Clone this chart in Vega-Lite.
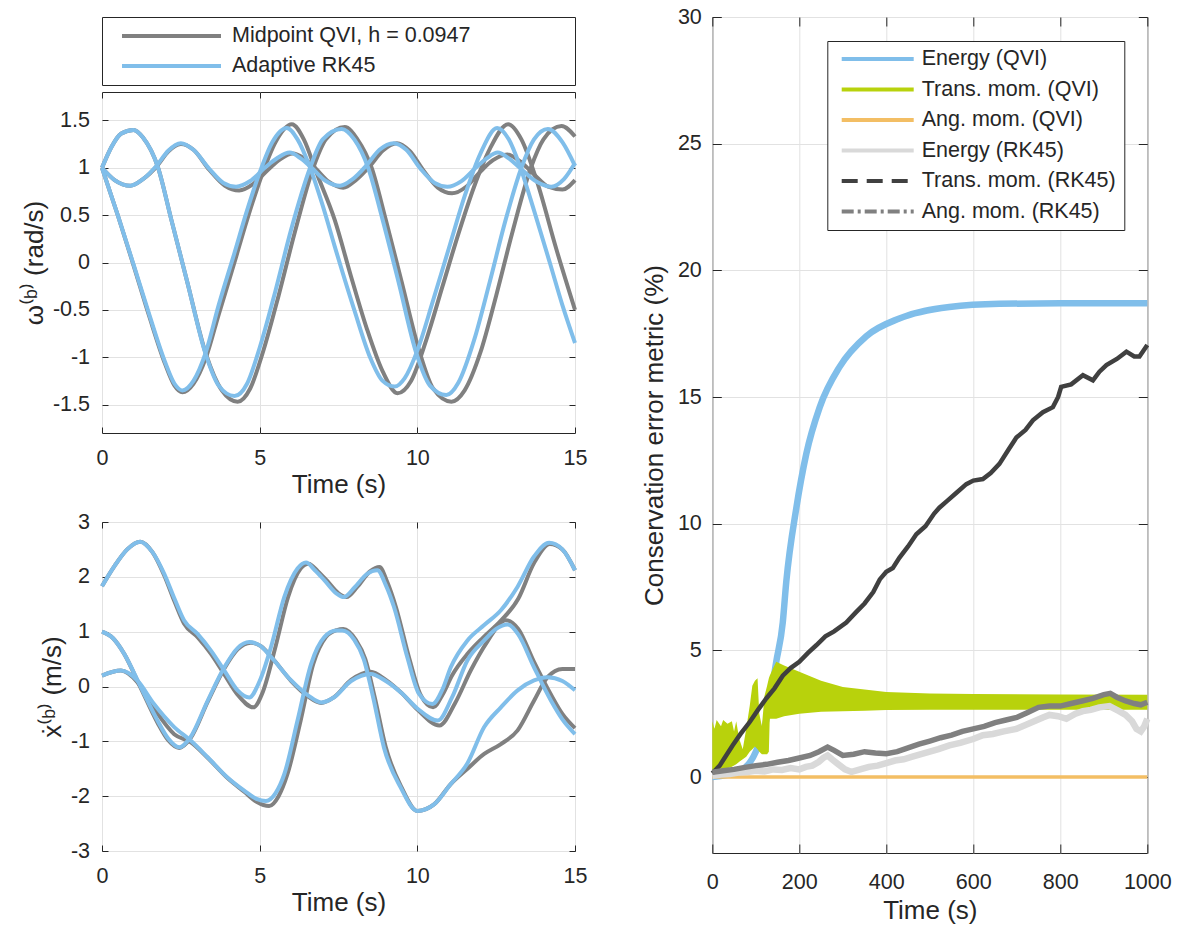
{
  "$schema": "https://vega.github.io/schema/vega-lite/v6.json",
  "background": "white",
  "padding": {"left": 20, "top": 5, "right": 0, "bottom": 0},
  "config": {
    "font": "Liberation Sans",
    "view": {"stroke": "#262626", "strokeWidth": 1},
    "axis": {
      "domain": false,
      "grid": true, "gridColor": "#e2e2e2", "gridWidth": 1,
      "ticks": true, "tickColor": "#262626", "tickSize": -6, "tickWidth": 1,
      "labelFont": "Liberation Sans", "labelFontSize": 21.5, "labelColor": "#262626",
      "labelFlush": false, "labelOverlap": false,
      "titleFont": "Liberation Sans", "titleFontSize": 26, "titleFontWeight": "normal", "titleColor": "#262626"
    },
    "axisX": {"labelPadding": 20.5, "titlePadding": 2},
    "axisY": {"labelPadding": 18.5, "titlePadding": 5.3}
  },
  "datasets": {
    "omega": [
      {"m":"Midpoint QVI, h = 0.0947","c":"A","t":0,"v":1.0},{"m":"Midpoint QVI, h = 0.0947","c":"A","t":0.4,"v":0.87},{"m":"Midpoint QVI, h = 0.0947","c":"A","t":0.9,"v":0.81},{"m":"Midpoint QVI, h = 0.0947","c":"A","t":1.3,"v":0.88},{"m":"Midpoint QVI, h = 0.0947","c":"A","t":1.75,"v":1.02},{"m":"Midpoint QVI, h = 0.0947","c":"A","t":2.1,"v":1.17},{"m":"Midpoint QVI, h = 0.0947","c":"A","t":2.5,"v":1.25},{"m":"Midpoint QVI, h = 0.0947","c":"A","t":2.9,"v":1.19},{"m":"Midpoint QVI, h = 0.0947","c":"A","t":3.4,"v":0.98},{"m":"Midpoint QVI, h = 0.0947","c":"A","t":3.9,"v":0.81},{"m":"Midpoint QVI, h = 0.0947","c":"A","t":4.35,"v":0.76},{"m":"Midpoint QVI, h = 0.0947","c":"A","t":4.8,"v":0.83},{"m":"Midpoint QVI, h = 0.0947","c":"A","t":5.3,"v":0.99},{"m":"Midpoint QVI, h = 0.0947","c":"A","t":5.65,"v":1.09},{"m":"Midpoint QVI, h = 0.0947","c":"A","t":6.05,"v":1.15},{"m":"Midpoint QVI, h = 0.0947","c":"A","t":6.4,"v":1.1},{"m":"Midpoint QVI, h = 0.0947","c":"A","t":6.75,"v":1.0},{"m":"Midpoint QVI, h = 0.0947","c":"A","t":7.2,"v":0.85},{"m":"Midpoint QVI, h = 0.0947","c":"A","t":7.65,"v":0.79},{"m":"Midpoint QVI, h = 0.0947","c":"A","t":8.05,"v":0.87},{"m":"Midpoint QVI, h = 0.0947","c":"A","t":8.5,"v":1.02},{"m":"Midpoint QVI, h = 0.0947","c":"A","t":8.9,"v":1.18},{"m":"Midpoint QVI, h = 0.0947","c":"A","t":9.35,"v":1.26},{"m":"Midpoint QVI, h = 0.0947","c":"A","t":9.75,"v":1.18},{"m":"Midpoint QVI, h = 0.0947","c":"A","t":10.2,"v":0.97},{"m":"Midpoint QVI, h = 0.0947","c":"A","t":10.65,"v":0.79},{"m":"Midpoint QVI, h = 0.0947","c":"A","t":11.1,"v":0.73},{"m":"Midpoint QVI, h = 0.0947","c":"A","t":11.55,"v":0.8},{"m":"Midpoint QVI, h = 0.0947","c":"A","t":12.0,"v":0.96},{"m":"Midpoint QVI, h = 0.0947","c":"A","t":12.4,"v":1.08},{"m":"Midpoint QVI, h = 0.0947","c":"A","t":12.85,"v":1.14},{"m":"Midpoint QVI, h = 0.0947","c":"A","t":13.25,"v":1.07},{"m":"Midpoint QVI, h = 0.0947","c":"A","t":13.7,"v":0.93},{"m":"Midpoint QVI, h = 0.0947","c":"A","t":14.15,"v":0.8},{"m":"Midpoint QVI, h = 0.0947","c":"A","t":14.6,"v":0.77},{"m":"Midpoint QVI, h = 0.0947","c":"A","t":15,"v":0.87},
      {"m":"Midpoint QVI, h = 0.0947","c":"B","t":0,"v":1.0},{"m":"Midpoint QVI, h = 0.0947","c":"B","t":0.3,"v":1.22},{"m":"Midpoint QVI, h = 0.0947","c":"B","t":0.6,"v":1.36},{"m":"Midpoint QVI, h = 0.0947","c":"B","t":1.0,"v":1.4},{"m":"Midpoint QVI, h = 0.0947","c":"B","t":1.3,"v":1.32},{"m":"Midpoint QVI, h = 0.0947","c":"B","t":1.78,"v":1.0},{"m":"Midpoint QVI, h = 0.0947","c":"B","t":2.2,"v":0.45},{"m":"Midpoint QVI, h = 0.0947","c":"B","t":2.7,"v":-0.2},{"m":"Midpoint QVI, h = 0.0947","c":"B","t":3.3,"v":-0.97},{"m":"Midpoint QVI, h = 0.0947","c":"B","t":3.8,"v":-1.35},{"m":"Midpoint QVI, h = 0.0947","c":"B","t":4.3,"v":-1.47},{"m":"Midpoint QVI, h = 0.0947","c":"B","t":4.7,"v":-1.33},{"m":"Midpoint QVI, h = 0.0947","c":"B","t":5.1,"v":-0.95},{"m":"Midpoint QVI, h = 0.0947","c":"B","t":5.6,"v":-0.35},{"m":"Midpoint QVI, h = 0.0947","c":"B","t":6.1,"v":0.3},{"m":"Midpoint QVI, h = 0.0947","c":"B","t":6.7,"v":1.0},{"m":"Midpoint QVI, h = 0.0947","c":"B","t":7.1,"v":1.3},{"m":"Midpoint QVI, h = 0.0947","c":"B","t":7.7,"v":1.43},{"m":"Midpoint QVI, h = 0.0947","c":"B","t":8.1,"v":1.3},{"m":"Midpoint QVI, h = 0.0947","c":"B","t":8.55,"v":1.0},{"m":"Midpoint QVI, h = 0.0947","c":"B","t":9.0,"v":0.45},{"m":"Midpoint QVI, h = 0.0947","c":"B","t":9.5,"v":-0.2},{"m":"Midpoint QVI, h = 0.0947","c":"B","t":10.05,"v":-0.92},{"m":"Midpoint QVI, h = 0.0947","c":"B","t":10.5,"v":-1.33},{"m":"Midpoint QVI, h = 0.0947","c":"B","t":11.08,"v":-1.47},{"m":"Midpoint QVI, h = 0.0947","c":"B","t":11.5,"v":-1.35},{"m":"Midpoint QVI, h = 0.0947","c":"B","t":12.0,"v":-0.95},{"m":"Midpoint QVI, h = 0.0947","c":"B","t":12.5,"v":-0.35},{"m":"Midpoint QVI, h = 0.0947","c":"B","t":13.0,"v":0.3},{"m":"Midpoint QVI, h = 0.0947","c":"B","t":13.6,"v":1.0},{"m":"Midpoint QVI, h = 0.0947","c":"B","t":14.0,"v":1.3},{"m":"Midpoint QVI, h = 0.0947","c":"B","t":14.57,"v":1.44},{"m":"Midpoint QVI, h = 0.0947","c":"B","t":15,"v":1.33},
      {"m":"Midpoint QVI, h = 0.0947","c":"C","t":0,"v":1.0},{"m":"Midpoint QVI, h = 0.0947","c":"C","t":0.5,"v":0.5},{"m":"Midpoint QVI, h = 0.0947","c":"C","t":1.0,"v":-0.03},{"m":"Midpoint QVI, h = 0.0947","c":"C","t":1.5,"v":-0.57},{"m":"Midpoint QVI, h = 0.0947","c":"C","t":2.0,"v":-1.07},{"m":"Midpoint QVI, h = 0.0947","c":"C","t":2.3,"v":-1.3},{"m":"Midpoint QVI, h = 0.0947","c":"C","t":2.55,"v":-1.37},{"m":"Midpoint QVI, h = 0.0947","c":"C","t":2.9,"v":-1.28},{"m":"Midpoint QVI, h = 0.0947","c":"C","t":3.3,"v":-1.0},{"m":"Midpoint QVI, h = 0.0947","c":"C","t":3.7,"v":-0.55},{"m":"Midpoint QVI, h = 0.0947","c":"C","t":4.2,"v":0.0},{"m":"Midpoint QVI, h = 0.0947","c":"C","t":4.6,"v":0.45},{"m":"Midpoint QVI, h = 0.0947","c":"C","t":5.1,"v":0.95},{"m":"Midpoint QVI, h = 0.0947","c":"C","t":5.5,"v":1.27},{"m":"Midpoint QVI, h = 0.0947","c":"C","t":6.02,"v":1.46},{"m":"Midpoint QVI, h = 0.0947","c":"C","t":6.4,"v":1.3},{"m":"Midpoint QVI, h = 0.0947","c":"C","t":6.8,"v":0.95},{"m":"Midpoint QVI, h = 0.0947","c":"C","t":7.38,"v":0.45},{"m":"Midpoint QVI, h = 0.0947","c":"C","t":7.9,"v":-0.15},{"m":"Midpoint QVI, h = 0.0947","c":"C","t":8.4,"v":-0.7},{"m":"Midpoint QVI, h = 0.0947","c":"C","t":8.9,"v":-1.15},{"m":"Midpoint QVI, h = 0.0947","c":"C","t":9.37,"v":-1.38},{"m":"Midpoint QVI, h = 0.0947","c":"C","t":9.8,"v":-1.25},{"m":"Midpoint QVI, h = 0.0947","c":"C","t":10.3,"v":-0.8},{"m":"Midpoint QVI, h = 0.0947","c":"C","t":10.8,"v":-0.25},{"m":"Midpoint QVI, h = 0.0947","c":"C","t":11.3,"v":0.3},{"m":"Midpoint QVI, h = 0.0947","c":"C","t":11.8,"v":0.8},{"m":"Midpoint QVI, h = 0.0947","c":"C","t":12.3,"v":1.2},{"m":"Midpoint QVI, h = 0.0947","c":"C","t":12.88,"v":1.46},{"m":"Midpoint QVI, h = 0.0947","c":"C","t":13.3,"v":1.3},{"m":"Midpoint QVI, h = 0.0947","c":"C","t":13.8,"v":0.85},{"m":"Midpoint QVI, h = 0.0947","c":"C","t":14.4,"v":0.15},{"m":"Midpoint QVI, h = 0.0947","c":"C","t":15,"v":-0.5},
      {"m":"Adaptive RK45","c":"A","t":0,"v":1.0},{"m":"Adaptive RK45","c":"A","t":0.4,"v":0.87},{"m":"Adaptive RK45","c":"A","t":0.9,"v":0.81},{"m":"Adaptive RK45","c":"A","t":1.3,"v":0.88},{"m":"Adaptive RK45","c":"A","t":1.75,"v":1.03},{"m":"Adaptive RK45","c":"A","t":2.1,"v":1.18},{"m":"Adaptive RK45","c":"A","t":2.5,"v":1.26},{"m":"Adaptive RK45","c":"A","t":2.9,"v":1.19},{"m":"Adaptive RK45","c":"A","t":3.4,"v":0.99},{"m":"Adaptive RK45","c":"A","t":3.85,"v":0.84},{"m":"Adaptive RK45","c":"A","t":4.25,"v":0.8},{"m":"Adaptive RK45","c":"A","t":4.7,"v":0.86},{"m":"Adaptive RK45","c":"A","t":5.2,"v":1.01},{"m":"Adaptive RK45","c":"A","t":5.55,"v":1.1},{"m":"Adaptive RK45","c":"A","t":5.95,"v":1.16},{"m":"Adaptive RK45","c":"A","t":6.3,"v":1.1},{"m":"Adaptive RK45","c":"A","t":6.65,"v":1.0},{"m":"Adaptive RK45","c":"A","t":7.1,"v":0.86},{"m":"Adaptive RK45","c":"A","t":7.55,"v":0.81},{"m":"Adaptive RK45","c":"A","t":7.95,"v":0.88},{"m":"Adaptive RK45","c":"A","t":8.4,"v":1.03},{"m":"Adaptive RK45","c":"A","t":8.8,"v":1.19},{"m":"Adaptive RK45","c":"A","t":9.25,"v":1.26},{"m":"Adaptive RK45","c":"A","t":9.65,"v":1.19},{"m":"Adaptive RK45","c":"A","t":10.1,"v":0.99},{"m":"Adaptive RK45","c":"A","t":10.55,"v":0.84},{"m":"Adaptive RK45","c":"A","t":10.95,"v":0.8},{"m":"Adaptive RK45","c":"A","t":11.4,"v":0.86},{"m":"Adaptive RK45","c":"A","t":11.85,"v":1.0},{"m":"Adaptive RK45","c":"A","t":12.2,"v":1.1},{"m":"Adaptive RK45","c":"A","t":12.55,"v":1.16},{"m":"Adaptive RK45","c":"A","t":12.9,"v":1.1},{"m":"Adaptive RK45","c":"A","t":13.25,"v":1.0},{"m":"Adaptive RK45","c":"A","t":13.8,"v":0.85},{"m":"Adaptive RK45","c":"A","t":14.25,"v":0.8},{"m":"Adaptive RK45","c":"A","t":14.65,"v":0.88},{"m":"Adaptive RK45","c":"A","t":15,"v":1.05},
      {"m":"Adaptive RK45","c":"B","t":0,"v":1.0},{"m":"Adaptive RK45","c":"B","t":0.3,"v":1.22},{"m":"Adaptive RK45","c":"B","t":0.6,"v":1.36},{"m":"Adaptive RK45","c":"B","t":1.0,"v":1.4},{"m":"Adaptive RK45","c":"B","t":1.3,"v":1.32},{"m":"Adaptive RK45","c":"B","t":1.76,"v":1.02},{"m":"Adaptive RK45","c":"B","t":2.2,"v":0.45},{"m":"Adaptive RK45","c":"B","t":2.7,"v":-0.2},{"m":"Adaptive RK45","c":"B","t":3.28,"v":-0.96},{"m":"Adaptive RK45","c":"B","t":3.7,"v":-1.3},{"m":"Adaptive RK45","c":"B","t":4.2,"v":-1.41},{"m":"Adaptive RK45","c":"B","t":4.6,"v":-1.28},{"m":"Adaptive RK45","c":"B","t":5.0,"v":-0.9},{"m":"Adaptive RK45","c":"B","t":5.5,"v":-0.3},{"m":"Adaptive RK45","c":"B","t":6.0,"v":0.35},{"m":"Adaptive RK45","c":"B","t":6.6,"v":1.0},{"m":"Adaptive RK45","c":"B","t":7.0,"v":1.3},{"m":"Adaptive RK45","c":"B","t":7.6,"v":1.41},{"m":"Adaptive RK45","c":"B","t":8.0,"v":1.3},{"m":"Adaptive RK45","c":"B","t":8.44,"v":1.0},{"m":"Adaptive RK45","c":"B","t":8.9,"v":0.45},{"m":"Adaptive RK45","c":"B","t":9.4,"v":-0.2},{"m":"Adaptive RK45","c":"B","t":9.97,"v":-0.96},{"m":"Adaptive RK45","c":"B","t":10.4,"v":-1.3},{"m":"Adaptive RK45","c":"B","t":10.92,"v":-1.4},{"m":"Adaptive RK45","c":"B","t":11.3,"v":-1.27},{"m":"Adaptive RK45","c":"B","t":11.8,"v":-0.82},{"m":"Adaptive RK45","c":"B","t":12.3,"v":-0.2},{"m":"Adaptive RK45","c":"B","t":12.8,"v":0.45},{"m":"Adaptive RK45","c":"B","t":13.3,"v":1.0},{"m":"Adaptive RK45","c":"B","t":13.7,"v":1.3},{"m":"Adaptive RK45","c":"B","t":14.14,"v":1.41},{"m":"Adaptive RK45","c":"B","t":14.6,"v":1.27},{"m":"Adaptive RK45","c":"B","t":15,"v":1.02},
      {"m":"Adaptive RK45","c":"C","t":0,"v":1.0},{"m":"Adaptive RK45","c":"C","t":0.5,"v":0.5},{"m":"Adaptive RK45","c":"C","t":1.0,"v":-0.02},{"m":"Adaptive RK45","c":"C","t":1.5,"v":-0.55},{"m":"Adaptive RK45","c":"C","t":2.0,"v":-1.05},{"m":"Adaptive RK45","c":"C","t":2.3,"v":-1.28},{"m":"Adaptive RK45","c":"C","t":2.55,"v":-1.35},{"m":"Adaptive RK45","c":"C","t":2.9,"v":-1.25},{"m":"Adaptive RK45","c":"C","t":3.28,"v":-0.96},{"m":"Adaptive RK45","c":"C","t":3.7,"v":-0.45},{"m":"Adaptive RK45","c":"C","t":4.2,"v":0.1},{"m":"Adaptive RK45","c":"C","t":4.6,"v":0.55},{"m":"Adaptive RK45","c":"C","t":5.0,"v":0.95},{"m":"Adaptive RK45","c":"C","t":5.4,"v":1.27},{"m":"Adaptive RK45","c":"C","t":5.86,"v":1.42},{"m":"Adaptive RK45","c":"C","t":6.2,"v":1.3},{"m":"Adaptive RK45","c":"C","t":6.6,"v":1.0},{"m":"Adaptive RK45","c":"C","t":7.0,"v":0.6},{"m":"Adaptive RK45","c":"C","t":7.38,"v":0.17},{"m":"Adaptive RK45","c":"C","t":8.0,"v":-0.5},{"m":"Adaptive RK45","c":"C","t":8.5,"v":-1.0},{"m":"Adaptive RK45","c":"C","t":8.9,"v":-1.25},{"m":"Adaptive RK45","c":"C","t":9.28,"v":-1.31},{"m":"Adaptive RK45","c":"C","t":9.6,"v":-1.22},{"m":"Adaptive RK45","c":"C","t":10.0,"v":-0.93},{"m":"Adaptive RK45","c":"C","t":10.5,"v":-0.4},{"m":"Adaptive RK45","c":"C","t":11.0,"v":0.15},{"m":"Adaptive RK45","c":"C","t":11.5,"v":0.7},{"m":"Adaptive RK45","c":"C","t":12.0,"v":1.15},{"m":"Adaptive RK45","c":"C","t":12.53,"v":1.42},{"m":"Adaptive RK45","c":"C","t":12.9,"v":1.3},{"m":"Adaptive RK45","c":"C","t":13.25,"v":1.02},{"m":"Adaptive RK45","c":"C","t":13.7,"v":0.55},{"m":"Adaptive RK45","c":"C","t":14.2,"v":0.0},{"m":"Adaptive RK45","c":"C","t":14.6,"v":-0.45},{"m":"Adaptive RK45","c":"C","t":15,"v":-0.85}
    ],
    "xdot": [
      {"m":"Midpoint QVI, h = 0.0947","c":"P","t":0,"v":1.83},{"m":"Midpoint QVI, h = 0.0947","c":"P","t":0.4,"v":2.2},{"m":"Midpoint QVI, h = 0.0947","c":"P","t":0.8,"v":2.5},{"m":"Midpoint QVI, h = 0.0947","c":"P","t":1.21,"v":2.64},{"m":"Midpoint QVI, h = 0.0947","c":"P","t":1.6,"v":2.45},{"m":"Midpoint QVI, h = 0.0947","c":"P","t":1.97,"v":2.03},{"m":"Midpoint QVI, h = 0.0947","c":"P","t":2.3,"v":1.55},{"m":"Midpoint QVI, h = 0.0947","c":"P","t":2.6,"v":1.15},{"m":"Midpoint QVI, h = 0.0947","c":"P","t":3.03,"v":0.9},{"m":"Midpoint QVI, h = 0.0947","c":"P","t":3.45,"v":0.6},{"m":"Midpoint QVI, h = 0.0947","c":"P","t":3.88,"v":0.22},{"m":"Midpoint QVI, h = 0.0947","c":"P","t":4.3,"v":-0.15},{"m":"Midpoint QVI, h = 0.0947","c":"P","t":4.8,"v":-0.38},{"m":"Midpoint QVI, h = 0.0947","c":"P","t":5.1,"v":-0.1},{"m":"Midpoint QVI, h = 0.0947","c":"P","t":5.5,"v":0.72},{"m":"Midpoint QVI, h = 0.0947","c":"P","t":5.9,"v":1.63},{"m":"Midpoint QVI, h = 0.0947","c":"P","t":6.3,"v":2.15},{"m":"Midpoint QVI, h = 0.0947","c":"P","t":6.55,"v":2.24},{"m":"Midpoint QVI, h = 0.0947","c":"P","t":6.85,"v":2.1},{"m":"Midpoint QVI, h = 0.0947","c":"P","t":7.15,"v":1.92},{"m":"Midpoint QVI, h = 0.0947","c":"P","t":7.5,"v":1.7},{"m":"Midpoint QVI, h = 0.0947","c":"P","t":7.75,"v":1.63},{"m":"Midpoint QVI, h = 0.0947","c":"P","t":8.1,"v":1.82},{"m":"Midpoint QVI, h = 0.0947","c":"P","t":8.5,"v":2.1},{"m":"Midpoint QVI, h = 0.0947","c":"P","t":8.8,"v":2.18},{"m":"Midpoint QVI, h = 0.0947","c":"P","t":9.05,"v":1.9},{"m":"Midpoint QVI, h = 0.0947","c":"P","t":9.32,"v":1.45},{"m":"Midpoint QVI, h = 0.0947","c":"P","t":9.75,"v":0.5},{"m":"Midpoint QVI, h = 0.0947","c":"P","t":10.1,"v":-0.15},{"m":"Midpoint QVI, h = 0.0947","c":"P","t":10.5,"v":-0.38},{"m":"Midpoint QVI, h = 0.0947","c":"P","t":10.8,"v":-0.15},{"m":"Midpoint QVI, h = 0.0947","c":"P","t":11.1,"v":0.2},{"m":"Midpoint QVI, h = 0.0947","c":"P","t":11.6,"v":0.6},{"m":"Midpoint QVI, h = 0.0947","c":"P","t":12.1,"v":0.9},{"m":"Midpoint QVI, h = 0.0947","c":"P","t":12.65,"v":1.2},{"m":"Midpoint QVI, h = 0.0947","c":"P","t":13.2,"v":1.6},{"m":"Midpoint QVI, h = 0.0947","c":"P","t":13.7,"v":2.25},{"m":"Midpoint QVI, h = 0.0947","c":"P","t":14.2,"v":2.6},{"m":"Midpoint QVI, h = 0.0947","c":"P","t":14.6,"v":2.5},{"m":"Midpoint QVI, h = 0.0947","c":"P","t":15,"v":2.12},
      {"m":"Midpoint QVI, h = 0.0947","c":"Q","t":0,"v":1.0},{"m":"Midpoint QVI, h = 0.0947","c":"Q","t":0.35,"v":0.88},{"m":"Midpoint QVI, h = 0.0947","c":"Q","t":0.7,"v":0.6},{"m":"Midpoint QVI, h = 0.0947","c":"Q","t":1.23,"v":-0.03},{"m":"Midpoint QVI, h = 0.0947","c":"Q","t":1.76,"v":-0.66},{"m":"Midpoint QVI, h = 0.0947","c":"Q","t":2.1,"v":-0.98},{"m":"Midpoint QVI, h = 0.0947","c":"Q","t":2.45,"v":-1.12},{"m":"Midpoint QVI, h = 0.0947","c":"Q","t":2.8,"v":-0.95},{"m":"Midpoint QVI, h = 0.0947","c":"Q","t":3.35,"v":-0.28},{"m":"Midpoint QVI, h = 0.0947","c":"Q","t":3.88,"v":0.33},{"m":"Midpoint QVI, h = 0.0947","c":"Q","t":4.3,"v":0.68},{"m":"Midpoint QVI, h = 0.0947","c":"Q","t":4.72,"v":0.8},{"m":"Midpoint QVI, h = 0.0947","c":"Q","t":5.05,"v":0.73},{"m":"Midpoint QVI, h = 0.0947","c":"Q","t":5.4,"v":0.52},{"m":"Midpoint QVI, h = 0.0947","c":"Q","t":6.0,"v":0.1},{"m":"Midpoint QVI, h = 0.0947","c":"Q","t":6.53,"v":-0.18},{"m":"Midpoint QVI, h = 0.0947","c":"Q","t":6.95,"v":-0.3},{"m":"Midpoint QVI, h = 0.0947","c":"Q","t":7.35,"v":-0.2},{"m":"Midpoint QVI, h = 0.0947","c":"Q","t":7.9,"v":0.12},{"m":"Midpoint QVI, h = 0.0947","c":"Q","t":8.52,"v":0.27},{"m":"Midpoint QVI, h = 0.0947","c":"Q","t":9.0,"v":0.12},{"m":"Midpoint QVI, h = 0.0947","c":"Q","t":9.5,"v":-0.12},{"m":"Midpoint QVI, h = 0.0947","c":"Q","t":10.0,"v":-0.42},{"m":"Midpoint QVI, h = 0.0947","c":"Q","t":10.7,"v":-0.71},{"m":"Midpoint QVI, h = 0.0947","c":"Q","t":11.2,"v":-0.3},{"m":"Midpoint QVI, h = 0.0947","c":"Q","t":11.7,"v":0.3},{"m":"Midpoint QVI, h = 0.0947","c":"Q","t":12.2,"v":0.8},{"m":"Midpoint QVI, h = 0.0947","c":"Q","t":12.8,"v":1.21},{"m":"Midpoint QVI, h = 0.0947","c":"Q","t":13.2,"v":1.05},{"m":"Midpoint QVI, h = 0.0947","c":"Q","t":13.7,"v":0.45},{"m":"Midpoint QVI, h = 0.0947","c":"Q","t":14.24,"v":-0.15},{"m":"Midpoint QVI, h = 0.0947","c":"Q","t":14.6,"v":-0.5},{"m":"Midpoint QVI, h = 0.0947","c":"Q","t":15,"v":-0.76},
      {"m":"Midpoint QVI, h = 0.0947","c":"R","t":0,"v":0.2},{"m":"Midpoint QVI, h = 0.0947","c":"R","t":0.6,"v":0.29},{"m":"Midpoint QVI, h = 0.0947","c":"R","t":1.12,"v":0.08},{"m":"Midpoint QVI, h = 0.0947","c":"R","t":1.65,"v":-0.4},{"m":"Midpoint QVI, h = 0.0947","c":"R","t":2.29,"v":-0.87},{"m":"Midpoint QVI, h = 0.0947","c":"R","t":2.82,"v":-1.02},{"m":"Midpoint QVI, h = 0.0947","c":"R","t":3.35,"v":-1.3},{"m":"Midpoint QVI, h = 0.0947","c":"R","t":3.98,"v":-1.67},{"m":"Midpoint QVI, h = 0.0947","c":"R","t":4.51,"v":-1.92},{"m":"Midpoint QVI, h = 0.0947","c":"R","t":4.9,"v":-2.1},{"m":"Midpoint QVI, h = 0.0947","c":"R","t":5.3,"v":-2.18},{"m":"Midpoint QVI, h = 0.0947","c":"R","t":5.6,"v":-2.0},{"m":"Midpoint QVI, h = 0.0947","c":"R","t":5.88,"v":-1.6},{"m":"Midpoint QVI, h = 0.0947","c":"R","t":6.3,"v":-0.62},{"m":"Midpoint QVI, h = 0.0947","c":"R","t":6.7,"v":0.41},{"m":"Midpoint QVI, h = 0.0947","c":"R","t":7.1,"v":0.9},{"m":"Midpoint QVI, h = 0.0947","c":"R","t":7.45,"v":1.03},{"m":"Midpoint QVI, h = 0.0947","c":"R","t":7.65,"v":1.05},{"m":"Midpoint QVI, h = 0.0947","c":"R","t":8.05,"v":0.85},{"m":"Midpoint QVI, h = 0.0947","c":"R","t":8.35,"v":0.5},{"m":"Midpoint QVI, h = 0.0947","c":"R","t":8.65,"v":-0.2},{"m":"Midpoint QVI, h = 0.0947","c":"R","t":9.0,"v":-1.11},{"m":"Midpoint QVI, h = 0.0947","c":"R","t":9.5,"v":-1.84},{"m":"Midpoint QVI, h = 0.0947","c":"R","t":10.0,"v":-2.27},{"m":"Midpoint QVI, h = 0.0947","c":"R","t":10.53,"v":-2.15},{"m":"Midpoint QVI, h = 0.0947","c":"R","t":11.06,"v":-1.78},{"m":"Midpoint QVI, h = 0.0947","c":"R","t":11.59,"v":-1.5},{"m":"Midpoint QVI, h = 0.0947","c":"R","t":12.12,"v":-1.23},{"m":"Midpoint QVI, h = 0.0947","c":"R","t":12.65,"v":-1.05},{"m":"Midpoint QVI, h = 0.0947","c":"R","t":13.18,"v":-0.8},{"m":"Midpoint QVI, h = 0.0947","c":"R","t":13.7,"v":-0.26},{"m":"Midpoint QVI, h = 0.0947","c":"R","t":14.13,"v":0.17},{"m":"Midpoint QVI, h = 0.0947","c":"R","t":14.6,"v":0.32},{"m":"Midpoint QVI, h = 0.0947","c":"R","t":15,"v":0.32},
      {"m":"Adaptive RK45","c":"P","t":0,"v":1.83},{"m":"Adaptive RK45","c":"P","t":0.4,"v":2.2},{"m":"Adaptive RK45","c":"P","t":0.8,"v":2.5},{"m":"Adaptive RK45","c":"P","t":1.21,"v":2.64},{"m":"Adaptive RK45","c":"P","t":1.6,"v":2.45},{"m":"Adaptive RK45","c":"P","t":1.97,"v":2.06},{"m":"Adaptive RK45","c":"P","t":2.3,"v":1.6},{"m":"Adaptive RK45","c":"P","t":2.6,"v":1.21},{"m":"Adaptive RK45","c":"P","t":3.03,"v":0.96},{"m":"Adaptive RK45","c":"P","t":3.45,"v":0.66},{"m":"Adaptive RK45","c":"P","t":3.88,"v":0.29},{"m":"Adaptive RK45","c":"P","t":4.3,"v":-0.07},{"m":"Adaptive RK45","c":"P","t":4.67,"v":-0.2},{"m":"Adaptive RK45","c":"P","t":5.0,"v":0.1},{"m":"Adaptive RK45","c":"P","t":5.36,"v":0.72},{"m":"Adaptive RK45","c":"P","t":5.78,"v":1.63},{"m":"Adaptive RK45","c":"P","t":6.2,"v":2.15},{"m":"Adaptive RK45","c":"P","t":6.47,"v":2.26},{"m":"Adaptive RK45","c":"P","t":6.75,"v":2.12},{"m":"Adaptive RK45","c":"P","t":7.05,"v":1.94},{"m":"Adaptive RK45","c":"P","t":7.43,"v":1.7},{"m":"Adaptive RK45","c":"P","t":7.67,"v":1.63},{"m":"Adaptive RK45","c":"P","t":8.0,"v":1.8},{"m":"Adaptive RK45","c":"P","t":8.4,"v":2.05},{"m":"Adaptive RK45","c":"P","t":8.73,"v":2.12},{"m":"Adaptive RK45","c":"P","t":9.0,"v":1.85},{"m":"Adaptive RK45","c":"P","t":9.26,"v":1.45},{"m":"Adaptive RK45","c":"P","t":9.68,"v":0.54},{"m":"Adaptive RK45","c":"P","t":10.05,"v":-0.13},{"m":"Adaptive RK45","c":"P","t":10.48,"v":-0.32},{"m":"Adaptive RK45","c":"P","t":10.8,"v":-0.05},{"m":"Adaptive RK45","c":"P","t":11.06,"v":0.35},{"m":"Adaptive RK45","c":"P","t":11.59,"v":0.84},{"m":"Adaptive RK45","c":"P","t":12.12,"v":1.12},{"m":"Adaptive RK45","c":"P","t":12.65,"v":1.39},{"m":"Adaptive RK45","c":"P","t":13.18,"v":1.82},{"m":"Adaptive RK45","c":"P","t":13.7,"v":2.37},{"m":"Adaptive RK45","c":"P","t":14.18,"v":2.62},{"m":"Adaptive RK45","c":"P","t":14.6,"v":2.5},{"m":"Adaptive RK45","c":"P","t":15,"v":2.12},
      {"m":"Adaptive RK45","c":"Q","t":0,"v":1.0},{"m":"Adaptive RK45","c":"Q","t":0.35,"v":0.88},{"m":"Adaptive RK45","c":"Q","t":0.7,"v":0.6},{"m":"Adaptive RK45","c":"Q","t":1.23,"v":-0.01},{"m":"Adaptive RK45","c":"Q","t":1.76,"v":-0.62},{"m":"Adaptive RK45","c":"Q","t":2.1,"v":-0.95},{"m":"Adaptive RK45","c":"Q","t":2.45,"v":-1.11},{"m":"Adaptive RK45","c":"Q","t":2.8,"v":-0.93},{"m":"Adaptive RK45","c":"Q","t":3.35,"v":-0.26},{"m":"Adaptive RK45","c":"Q","t":3.88,"v":0.35},{"m":"Adaptive RK45","c":"Q","t":4.3,"v":0.7},{"m":"Adaptive RK45","c":"Q","t":4.67,"v":0.81},{"m":"Adaptive RK45","c":"Q","t":5.0,"v":0.75},{"m":"Adaptive RK45","c":"Q","t":5.36,"v":0.54},{"m":"Adaptive RK45","c":"Q","t":6.0,"v":0.11},{"m":"Adaptive RK45","c":"Q","t":6.53,"v":-0.16},{"m":"Adaptive RK45","c":"Q","t":6.95,"v":-0.29},{"m":"Adaptive RK45","c":"Q","t":7.35,"v":-0.2},{"m":"Adaptive RK45","c":"Q","t":7.9,"v":0.1},{"m":"Adaptive RK45","c":"Q","t":8.52,"v":0.23},{"m":"Adaptive RK45","c":"Q","t":9.0,"v":0.1},{"m":"Adaptive RK45","c":"Q","t":9.5,"v":-0.12},{"m":"Adaptive RK45","c":"Q","t":10.0,"v":-0.4},{"m":"Adaptive RK45","c":"Q","t":10.65,"v":-0.62},{"m":"Adaptive RK45","c":"Q","t":11.1,"v":-0.2},{"m":"Adaptive RK45","c":"Q","t":11.59,"v":0.48},{"m":"Adaptive RK45","c":"Q","t":12.12,"v":0.84},{"m":"Adaptive RK45","c":"Q","t":12.5,"v":1.05},{"m":"Adaptive RK45","c":"Q","t":12.86,"v":1.13},{"m":"Adaptive RK45","c":"Q","t":13.2,"v":0.95},{"m":"Adaptive RK45","c":"Q","t":13.7,"v":0.35},{"m":"Adaptive RK45","c":"Q","t":14.24,"v":-0.26},{"m":"Adaptive RK45","c":"Q","t":14.6,"v":-0.6},{"m":"Adaptive RK45","c":"Q","t":15,"v":-0.87},
      {"m":"Adaptive RK45","c":"R","t":0,"v":0.2},{"m":"Adaptive RK45","c":"R","t":0.6,"v":0.29},{"m":"Adaptive RK45","c":"R","t":1.12,"v":0.11},{"m":"Adaptive RK45","c":"R","t":1.65,"v":-0.32},{"m":"Adaptive RK45","c":"R","t":2.29,"v":-0.74},{"m":"Adaptive RK45","c":"R","t":2.82,"v":-0.99},{"m":"Adaptive RK45","c":"R","t":3.35,"v":-1.29},{"m":"Adaptive RK45","c":"R","t":3.98,"v":-1.66},{"m":"Adaptive RK45","c":"R","t":4.51,"v":-1.9},{"m":"Adaptive RK45","c":"R","t":4.9,"v":-2.05},{"m":"Adaptive RK45","c":"R","t":5.2,"v":-2.09},{"m":"Adaptive RK45","c":"R","t":5.5,"v":-1.95},{"m":"Adaptive RK45","c":"R","t":5.78,"v":-1.6},{"m":"Adaptive RK45","c":"R","t":6.2,"v":-0.62},{"m":"Adaptive RK45","c":"R","t":6.63,"v":0.41},{"m":"Adaptive RK45","c":"R","t":7.05,"v":0.9},{"m":"Adaptive RK45","c":"R","t":7.43,"v":1.02},{"m":"Adaptive RK45","c":"R","t":7.62,"v":1.02},{"m":"Adaptive RK45","c":"R","t":8.0,"v":0.85},{"m":"Adaptive RK45","c":"R","t":8.3,"v":0.5},{"m":"Adaptive RK45","c":"R","t":8.6,"v":-0.2},{"m":"Adaptive RK45","c":"R","t":8.94,"v":-1.11},{"m":"Adaptive RK45","c":"R","t":9.47,"v":-1.84},{"m":"Adaptive RK45","c":"R","t":10.0,"v":-2.27},{"m":"Adaptive RK45","c":"R","t":10.53,"v":-2.15},{"m":"Adaptive RK45","c":"R","t":11.06,"v":-1.78},{"m":"Adaptive RK45","c":"R","t":11.59,"v":-1.4},{"m":"Adaptive RK45","c":"R","t":12.12,"v":-0.74},{"m":"Adaptive RK45","c":"R","t":12.65,"v":-0.38},{"m":"Adaptive RK45","c":"R","t":13.18,"v":-0.07},{"m":"Adaptive RK45","c":"R","t":13.7,"v":0.11},{"m":"Adaptive RK45","c":"R","t":14.13,"v":0.17},{"m":"Adaptive RK45","c":"R","t":14.6,"v":0.1},{"m":"Adaptive RK45","c":"R","t":15,"v":-0.07}
    ],
    "cons": [
      {"s":"Energy (QVI)","t":0,"v":0},{"s":"Energy (QVI)","t":60,"v":0.2},{"s":"Energy (QVI)","t":100,"v":1.0},{"s":"Energy (QVI)","t":125,"v":2.3},{"s":"Energy (QVI)","t":147,"v":4.55},{"s":"Energy (QVI)","t":162,"v":6.1},{"s":"Energy (QVI)","t":170,"v":7.7},{"s":"Energy (QVI)","t":193,"v":10.6},{"s":"Energy (QVI)","t":216,"v":12.75},{"s":"Energy (QVI)","t":247,"v":14.6},{"s":"Energy (QVI)","t":293,"v":16.2},{"s":"Energy (QVI)","t":354,"v":17.4},{"s":"Energy (QVI)","t":430,"v":18.1},{"s":"Energy (QVI)","t":545,"v":18.55},{"s":"Energy (QVI)","t":660,"v":18.68},{"s":"Energy (QVI)","t":800,"v":18.7},{"s":"Energy (QVI)","t":1000,"v":18.7},
      {"s":"Ang. mom. (QVI)","t":0,"v":0},{"s":"Ang. mom. (QVI)","t":1000,"v":0},
      {"s":"Energy (RK45)","t":0,"v":0.05},{"s":"Energy (RK45)","t":20,"v":0.1},{"s":"Energy (RK45)","t":40,"v":0.12},{"s":"Energy (RK45)","t":60,"v":0.18},{"s":"Energy (RK45)","t":80,"v":0.2},{"s":"Energy (RK45)","t":100,"v":0.25},{"s":"Energy (RK45)","t":120,"v":0.22},{"s":"Energy (RK45)","t":140,"v":0.3},{"s":"Energy (RK45)","t":160,"v":0.28},{"s":"Energy (RK45)","t":180,"v":0.35},{"s":"Energy (RK45)","t":200,"v":0.3},{"s":"Energy (RK45)","t":215,"v":0.4},{"s":"Energy (RK45)","t":230,"v":0.45},{"s":"Energy (RK45)","t":245,"v":0.6},{"s":"Energy (RK45)","t":255,"v":0.75},{"s":"Energy (RK45)","t":265,"v":0.85},{"s":"Energy (RK45)","t":275,"v":0.7},{"s":"Energy (RK45)","t":290,"v":0.5},{"s":"Energy (RK45)","t":305,"v":0.3},{"s":"Energy (RK45)","t":320,"v":0.2},{"s":"Energy (RK45)","t":340,"v":0.3},{"s":"Energy (RK45)","t":360,"v":0.4},{"s":"Energy (RK45)","t":380,"v":0.45},{"s":"Energy (RK45)","t":400,"v":0.55},{"s":"Energy (RK45)","t":420,"v":0.65},{"s":"Energy (RK45)","t":440,"v":0.7},{"s":"Energy (RK45)","t":460,"v":0.8},{"s":"Energy (RK45)","t":480,"v":0.9},{"s":"Energy (RK45)","t":500,"v":1.0},{"s":"Energy (RK45)","t":520,"v":1.1},{"s":"Energy (RK45)","t":545,"v":1.25},{"s":"Energy (RK45)","t":570,"v":1.35},{"s":"Energy (RK45)","t":600,"v":1.5},{"s":"Energy (RK45)","t":622,"v":1.65},{"s":"Energy (RK45)","t":645,"v":1.7},{"s":"Energy (RK45)","t":670,"v":1.8},{"s":"Energy (RK45)","t":699,"v":1.9},{"s":"Energy (RK45)","t":720,"v":2.05},{"s":"Energy (RK45)","t":740,"v":2.2},{"s":"Energy (RK45)","t":760,"v":2.35},{"s":"Energy (RK45)","t":775,"v":2.45},{"s":"Energy (RK45)","t":795,"v":2.4},{"s":"Energy (RK45)","t":814,"v":2.3},{"s":"Energy (RK45)","t":835,"v":2.5},{"s":"Energy (RK45)","t":852,"v":2.6},{"s":"Energy (RK45)","t":870,"v":2.65},{"s":"Energy (RK45)","t":890,"v":2.75},{"s":"Energy (RK45)","t":913,"v":2.8},{"s":"Energy (RK45)","t":935,"v":2.6},{"s":"Energy (RK45)","t":950,"v":2.45},{"s":"Energy (RK45)","t":965,"v":2.2},{"s":"Energy (RK45)","t":975,"v":1.9},{"s":"Energy (RK45)","t":985,"v":1.8},{"s":"Energy (RK45)","t":993,"v":2.0},{"s":"Energy (RK45)","t":1000,"v":2.3},
      {"s":"Trans. mom. (RK45)","t":0,"v":0.15},{"s":"Trans. mom. (RK45)","t":17,"v":0.45},{"s":"Trans. mom. (RK45)","t":30,"v":0.8},{"s":"Trans. mom. (RK45)","t":47,"v":1.25},{"s":"Trans. mom. (RK45)","t":65,"v":1.7},{"s":"Trans. mom. (RK45)","t":86,"v":2.17},{"s":"Trans. mom. (RK45)","t":105,"v":2.65},{"s":"Trans. mom. (RK45)","t":124,"v":3.1},{"s":"Trans. mom. (RK45)","t":143,"v":3.5},{"s":"Trans. mom. (RK45)","t":162,"v":4.0},{"s":"Trans. mom. (RK45)","t":180,"v":4.3},{"s":"Trans. mom. (RK45)","t":200,"v":4.55},{"s":"Trans. mom. (RK45)","t":220,"v":4.9},{"s":"Trans. mom. (RK45)","t":239,"v":5.2},{"s":"Trans. mom. (RK45)","t":260,"v":5.55},{"s":"Trans. mom. (RK45)","t":280,"v":5.75},{"s":"Trans. mom. (RK45)","t":308,"v":6.1},{"s":"Trans. mom. (RK45)","t":330,"v":6.5},{"s":"Trans. mom. (RK45)","t":350,"v":6.85},{"s":"Trans. mom. (RK45)","t":370,"v":7.3},{"s":"Trans. mom. (RK45)","t":385,"v":7.8},{"s":"Trans. mom. (RK45)","t":400,"v":8.1},{"s":"Trans. mom. (RK45)","t":415,"v":8.25},{"s":"Trans. mom. (RK45)","t":430,"v":8.65},{"s":"Trans. mom. (RK45)","t":450,"v":9.1},{"s":"Trans. mom. (RK45)","t":469,"v":9.58},{"s":"Trans. mom. (RK45)","t":490,"v":9.9},{"s":"Trans. mom. (RK45)","t":510,"v":10.4},{"s":"Trans. mom. (RK45)","t":522,"v":10.63},{"s":"Trans. mom. (RK45)","t":540,"v":10.9},{"s":"Trans. mom. (RK45)","t":560,"v":11.2},{"s":"Trans. mom. (RK45)","t":584,"v":11.56},{"s":"Trans. mom. (RK45)","t":600,"v":11.7},{"s":"Trans. mom. (RK45)","t":622,"v":11.76},{"s":"Trans. mom. (RK45)","t":640,"v":12.0},{"s":"Trans. mom. (RK45)","t":660,"v":12.36},{"s":"Trans. mom. (RK45)","t":680,"v":12.9},{"s":"Trans. mom. (RK45)","t":699,"v":13.4},{"s":"Trans. mom. (RK45)","t":720,"v":13.7},{"s":"Trans. mom. (RK45)","t":737,"v":14.08},{"s":"Trans. mom. (RK45)","t":760,"v":14.4},{"s":"Trans. mom. (RK45)","t":783,"v":14.6},{"s":"Trans. mom. (RK45)","t":795,"v":15.0},{"s":"Trans. mom. (RK45)","t":802,"v":15.4},{"s":"Trans. mom. (RK45)","t":825,"v":15.5},{"s":"Trans. mom. (RK45)","t":852,"v":15.86},{"s":"Trans. mom. (RK45)","t":875,"v":15.66},{"s":"Trans. mom. (RK45)","t":890,"v":16.0},{"s":"Trans. mom. (RK45)","t":906,"v":16.26},{"s":"Trans. mom. (RK45)","t":930,"v":16.5},{"s":"Trans. mom. (RK45)","t":952,"v":16.79},{"s":"Trans. mom. (RK45)","t":970,"v":16.6},{"s":"Trans. mom. (RK45)","t":982,"v":16.6},{"s":"Trans. mom. (RK45)","t":1000,"v":17.05},
      {"s":"Ang. mom. (RK45)","t":0,"v":0.19},{"s":"Ang. mom. (RK45)","t":25,"v":0.25},{"s":"Ang. mom. (RK45)","t":50,"v":0.3},{"s":"Ang. mom. (RK45)","t":75,"v":0.38},{"s":"Ang. mom. (RK45)","t":100,"v":0.45},{"s":"Ang. mom. (RK45)","t":125,"v":0.5},{"s":"Ang. mom. (RK45)","t":150,"v":0.58},{"s":"Ang. mom. (RK45)","t":175,"v":0.65},{"s":"Ang. mom. (RK45)","t":200,"v":0.75},{"s":"Ang. mom. (RK45)","t":225,"v":0.85},{"s":"Ang. mom. (RK45)","t":245,"v":1.0},{"s":"Ang. mom. (RK45)","t":265,"v":1.18},{"s":"Ang. mom. (RK45)","t":280,"v":1.05},{"s":"Ang. mom. (RK45)","t":300,"v":0.85},{"s":"Ang. mom. (RK45)","t":325,"v":0.9},{"s":"Ang. mom. (RK45)","t":350,"v":1.0},{"s":"Ang. mom. (RK45)","t":375,"v":0.95},{"s":"Ang. mom. (RK45)","t":400,"v":0.92},{"s":"Ang. mom. (RK45)","t":425,"v":1.0},{"s":"Ang. mom. (RK45)","t":450,"v":1.15},{"s":"Ang. mom. (RK45)","t":475,"v":1.3},{"s":"Ang. mom. (RK45)","t":500,"v":1.42},{"s":"Ang. mom. (RK45)","t":525,"v":1.55},{"s":"Ang. mom. (RK45)","t":550,"v":1.65},{"s":"Ang. mom. (RK45)","t":575,"v":1.8},{"s":"Ang. mom. (RK45)","t":600,"v":1.9},{"s":"Ang. mom. (RK45)","t":625,"v":2.0},{"s":"Ang. mom. (RK45)","t":650,"v":2.15},{"s":"Ang. mom. (RK45)","t":675,"v":2.25},{"s":"Ang. mom. (RK45)","t":700,"v":2.35},{"s":"Ang. mom. (RK45)","t":725,"v":2.55},{"s":"Ang. mom. (RK45)","t":750,"v":2.75},{"s":"Ang. mom. (RK45)","t":775,"v":2.8},{"s":"Ang. mom. (RK45)","t":800,"v":2.8},{"s":"Ang. mom. (RK45)","t":825,"v":2.9},{"s":"Ang. mom. (RK45)","t":850,"v":3.0},{"s":"Ang. mom. (RK45)","t":875,"v":3.1},{"s":"Ang. mom. (RK45)","t":900,"v":3.25},{"s":"Ang. mom. (RK45)","t":915,"v":3.3},{"s":"Ang. mom. (RK45)","t":930,"v":3.15},{"s":"Ang. mom. (RK45)","t":950,"v":3.0},{"s":"Ang. mom. (RK45)","t":970,"v":2.9},{"s":"Ang. mom. (RK45)","t":985,"v":2.85},{"s":"Ang. mom. (RK45)","t":1000,"v":2.95}
    ],
    "band": [
      {"t":0,"lo":0.2,"hi":2.2},{"t":5,"lo":0.3,"hi":1.9},{"t":10,"lo":0.25,"hi":2.25},{"t":20,"lo":0.3,"hi":2.0},{"t":25,"lo":0.3,"hi":2.25},{"t":35,"lo":0.35,"hi":2.1},{"t":45,"lo":0.4,"hi":2.2},{"t":50,"lo":0.45,"hi":1.8},{"t":55,"lo":0.5,"hi":2.2},{"t":62,"lo":0.6,"hi":1.5},{"t":70,"lo":0.7,"hi":1.1},{"t":78,"lo":0.8,"hi":1.9},{"t":86,"lo":1.0,"hi":2.8},{"t":92,"lo":1.1,"hi":3.6},{"t":98,"lo":1.2,"hi":3.8},{"t":104,"lo":1.1,"hi":3.9},{"t":108,"lo":1.0,"hi":2.5},{"t":114,"lo":0.9,"hi":2.0},{"t":120,"lo":0.9,"hi":3.2},{"t":126,"lo":0.9,"hi":3.6},{"t":130,"lo":1.0,"hi":3.9},{"t":132,"lo":2.3,"hi":4.0},{"t":140,"lo":2.3,"hi":4.3},{"t":147,"lo":2.3,"hi":4.55},{"t":165,"lo":2.4,"hi":4.4},{"t":200,"lo":2.5,"hi":4.15},{"t":250,"lo":2.58,"hi":3.8},{"t":300,"lo":2.6,"hi":3.55},{"t":350,"lo":2.62,"hi":3.45},{"t":400,"lo":2.64,"hi":3.36},{"t":500,"lo":2.65,"hi":3.3},{"t":600,"lo":2.65,"hi":3.28},{"t":800,"lo":2.65,"hi":3.26},{"t":1000,"lo":2.65,"hi":3.25}
    ]
  },
  "resolve": {"scale": {"color": "independent"}, "legend": {"color": "independent"}},
  "spacing": 52.3,
  "hconcat": [
    {
      "spacing": 12,
      "resolve": {"scale": {"color": "independent"}, "legend": {"color": "independent"}},
      "vconcat": [
        {
          "spacing": 5,
          "resolve": {"scale": {"color": "independent"}, "legend": {"color": "independent"}},
          "vconcat": [
            {
              "width": 473, "height": 68,
              "data": {"values": []},
              "mark": {"type": "line"},
              "encoding": {
                "x": {"field": "t", "type": "quantitative", "axis": null},
                "y": {"field": "v", "type": "quantitative", "axis": null},
                "color": {"field": "m", "type": "nominal", "scale": {"domain": ["Midpoint QVI, h = 0.0947", "Adaptive RK45"], "range": ["#808080", "#80BEEA"]},
                  "legend": {"orient": "none", "legendX": 0, "legendY": 0, "title": null, "direction": "vertical",
                    "symbolType": "stroke", "symbolSize": 9801, "symbolStrokeWidth": 4, "clipHeight": 22, "rowPadding": 8, "padding": 8, "symbolOffset": 10, "labelOffset": 9,
                    "labelFontSize": 21.5, "labelColor": "#262626", "labelLimit": 600}}
              }
            },
            {
              "width": 473, "height": 341,
              "resolve": {"axis": {"x": "independent", "y": "independent"}},
              "layer": [
                {
                  "data": {"name": "omega"},
                  "mark": {"type": "line", "strokeWidth": 4, "interpolate": "monotone"},
                  "encoding": {
                    "x": {"field": "t", "type": "quantitative", "scale": {"domain": [0, 15], "nice": false}, "axis": {"values": [0, 5, 10, 15], "title": "Time (s)", "format": "d"}},
                    "y": {"field": "v", "type": "quantitative", "scale": {"domain": [-1.8, 1.8], "nice": false, "zero": false}, "axis": {"values": [-1.5, -1, -0.5, 0, 0.5, 1, 1.5], "title": "ω⁽ᵇ⁾ (rad/s)", "format": ".2~f", "labelExpr": "replace(datum.label, '−', '-')"}},
                    "color": {"field": "m", "type": "nominal", "scale": {"domain": ["Midpoint QVI, h = 0.0947", "Adaptive RK45"], "range": ["#808080", "#80BEEA"]}, "legend": null},
                    "detail": {"field": "c", "type": "nominal"}
                  }
                },
                {
                  "data": {"values": []},
                  "mark": {"type": "point"},
                  "encoding": {
                    "x": {"field": "t", "type": "quantitative", "scale": {"domain": [0, 15], "nice": false}, "axis": {"orient": "top", "values": [0, 5, 10, 15], "labels": false, "title": null, "grid": false}},
                    "y": {"field": "v", "type": "quantitative", "scale": {"domain": [-1.8, 1.8], "nice": false, "zero": false}, "axis": {"orient": "right", "values": [-1.5, -1, -0.5, 0, 0.5, 1, 1.5], "labels": false, "title": null, "grid": false}}
                  }
                }
              ]
            }
          ]
        },
        {
          "width": 473, "height": 329,
          "resolve": {"axis": {"x": "independent", "y": "independent"}},
          "layer": [
            {
              "data": {"name": "xdot"},
              "mark": {"type": "line", "strokeWidth": 4, "interpolate": "monotone"},
              "encoding": {
                "x": {"field": "t", "type": "quantitative", "scale": {"domain": [0, 15], "nice": false}, "axis": {"values": [0, 5, 10, 15], "title": "Time (s)", "format": "d"}},
                "y": {"field": "v", "type": "quantitative", "scale": {"domain": [-3, 3], "nice": false, "zero": false}, "axis": {"values": [-3, -2, -1, 0, 1, 2, 3], "title": "ẋ⁽ᵇ⁾ (m/s)", "format": "d", "labelExpr": "replace(datum.label, '−', '-')"}},
                "color": {"field": "m", "type": "nominal", "scale": {"domain": ["Midpoint QVI, h = 0.0947", "Adaptive RK45"], "range": ["#808080", "#80BEEA"]}, "legend": null},
                "detail": {"field": "c", "type": "nominal"}
              }
            },
            {
              "data": {"values": []},
              "mark": {"type": "point"},
              "encoding": {
                "x": {"field": "t", "type": "quantitative", "scale": {"domain": [0, 15], "nice": false}, "axis": {"orient": "top", "values": [0, 5, 10, 15], "labels": false, "title": null, "grid": false}},
                "y": {"field": "v", "type": "quantitative", "scale": {"domain": [-3, 3], "nice": false, "zero": false}, "axis": {"orient": "right", "values": [-3, -2, -1, 0, 1, 2, 3], "labels": false, "title": null, "grid": false}}
              }
            }
          ]
        }
      ]
    },
    {
      "width": 435, "height": 836,
      "resolve": {"axis": {"x": "independent", "y": "independent"}},
      "layer": [
        {
          "encoding": {
            "x": {"field": "t", "type": "quantitative", "scale": {"domain": [0, 1000], "nice": false}, "axis": {"values": [0, 200, 400, 600, 800, 1000], "title": "Time (s)", "format": "d", "tickSize": -9, "labelPadding": 27.5, "titlePadding": 4}},
            "y": {"field": "v", "type": "quantitative", "scale": {"domain": [-3, 30], "nice": false, "zero": false}, "axis": {"values": [0, 5, 10, 15, 20, 25, 30], "title": "Conservation error metric (%)", "format": "d", "tickSize": -9, "labelPadding": 20, "titlePadding": 10.3}}
          },
          "layer": [
            {
              "data": {"name": "cons"},
              "transform": [{"filter": "datum.s === 'Energy (QVI)'"}],
              "mark": {"type": "line", "strokeWidth": 6.5, "interpolate": "monotone"},
              "encoding": {
                "color": {"field": "s", "type": "nominal", "scale": {"domain": ["Energy (QVI)", "Trans. mom. (QVI)", "Ang. mom. (QVI)", "Energy (RK45)", "Trans. mom. (RK45)", "Ang. mom. (RK45)"], "range": ["#80BEEA", "#B8D20C", "#F3BE64", "#D9D9D9", "#404040", "#808080"]},
                  "legend": {"orient": "none", "legendX": 115, "legendY": 24, "title": null, "direction": "vertical",
                    "symbolType": "stroke", "symbolSize": 5184, "symbolStrokeWidth": 4, "clipHeight": 20, "rowPadding": 8.5, "padding": 8, "symbolOffset": 4.4, "labelOffset": 6,
                    "labelFontSize": 21.5, "labelColor": "#262626", "labelLimit": 600, "strokeColor": "#262626", "fillColor": "white",
                    "encode": {"symbols": {"update": {"strokeDash": {"signal": "datum.value === 'Trans. mom. (RK45)' ? [16, 9] : datum.value === 'Ang. mom. (RK45)' ? [12, 4, 3, 4] : [1, 0]"}}}}}}
              }
            },
            {
              "data": {"name": "band"},
              "mark": {"type": "area", "color": "#B8D20C", "opacity": 1},
              "encoding": {
                "y": {"field": "lo", "type": "quantitative"},
                "y2": {"field": "hi"}
              }
            },
            {
              "data": {"name": "cons"},
              "transform": [{"filter": "datum.s === 'Ang. mom. (QVI)'"}],
              "mark": {"type": "line", "strokeWidth": 3.5},
              "encoding": {
                "color": {"field": "s", "type": "nominal", "scale": {"domain": ["Energy (QVI)", "Trans. mom. (QVI)", "Ang. mom. (QVI)", "Energy (RK45)", "Trans. mom. (RK45)", "Ang. mom. (RK45)"], "range": ["#80BEEA", "#B8D20C", "#F3BE64", "#D9D9D9", "#404040", "#808080"]},
                  "legend": {"orient": "none", "legendX": 115, "legendY": 24, "title": null, "direction": "vertical",
                    "symbolType": "stroke", "symbolSize": 5184, "symbolStrokeWidth": 4, "clipHeight": 20, "rowPadding": 8.5, "padding": 8, "symbolOffset": 4.4, "labelOffset": 6,
                    "labelFontSize": 21.5, "labelColor": "#262626", "labelLimit": 600, "strokeColor": "#262626", "fillColor": "white",
                    "encode": {"symbols": {"update": {"strokeDash": {"signal": "datum.value === 'Trans. mom. (RK45)' ? [16, 9] : datum.value === 'Ang. mom. (RK45)' ? [12, 4, 3, 4] : [1, 0]"}}}}}}
              }
            },
            {
              "data": {"name": "cons"},
              "transform": [{"filter": "datum.s === 'Energy (RK45)'"}],
              "mark": {"type": "line", "strokeWidth": 6.5},
              "encoding": {
                "color": {"field": "s", "type": "nominal", "scale": {"domain": ["Energy (QVI)", "Trans. mom. (QVI)", "Ang. mom. (QVI)", "Energy (RK45)", "Trans. mom. (RK45)", "Ang. mom. (RK45)"], "range": ["#80BEEA", "#B8D20C", "#F3BE64", "#D9D9D9", "#404040", "#808080"]},
                  "legend": {"orient": "none", "legendX": 115, "legendY": 24, "title": null, "direction": "vertical",
                    "symbolType": "stroke", "symbolSize": 5184, "symbolStrokeWidth": 4, "clipHeight": 20, "rowPadding": 8.5, "padding": 8, "symbolOffset": 4.4, "labelOffset": 6,
                    "labelFontSize": 21.5, "labelColor": "#262626", "labelLimit": 600, "strokeColor": "#262626", "fillColor": "white",
                    "encode": {"symbols": {"update": {"strokeDash": {"signal": "datum.value === 'Trans. mom. (RK45)' ? [16, 9] : datum.value === 'Ang. mom. (RK45)' ? [12, 4, 3, 4] : [1, 0]"}}}}}}
              }
            },
            {
              "data": {"name": "cons"},
              "transform": [{"filter": "datum.s === 'Trans. mom. (RK45)'"}],
              "mark": {"type": "line", "strokeWidth": 4.5},
              "encoding": {
                "color": {"field": "s", "type": "nominal", "scale": {"domain": ["Energy (QVI)", "Trans. mom. (QVI)", "Ang. mom. (QVI)", "Energy (RK45)", "Trans. mom. (RK45)", "Ang. mom. (RK45)"], "range": ["#80BEEA", "#B8D20C", "#F3BE64", "#D9D9D9", "#404040", "#808080"]},
                  "legend": {"orient": "none", "legendX": 115, "legendY": 24, "title": null, "direction": "vertical",
                    "symbolType": "stroke", "symbolSize": 5184, "symbolStrokeWidth": 4, "clipHeight": 20, "rowPadding": 8.5, "padding": 8, "symbolOffset": 4.4, "labelOffset": 6,
                    "labelFontSize": 21.5, "labelColor": "#262626", "labelLimit": 600, "strokeColor": "#262626", "fillColor": "white",
                    "encode": {"symbols": {"update": {"strokeDash": {"signal": "datum.value === 'Trans. mom. (RK45)' ? [16, 9] : datum.value === 'Ang. mom. (RK45)' ? [12, 4, 3, 4] : [1, 0]"}}}}}}
              }
            },
            {
              "data": {"name": "cons"},
              "transform": [{"filter": "datum.s === 'Ang. mom. (RK45)'"}],
              "mark": {"type": "line", "strokeWidth": 5.5},
              "encoding": {
                "color": {"field": "s", "type": "nominal", "scale": {"domain": ["Energy (QVI)", "Trans. mom. (QVI)", "Ang. mom. (QVI)", "Energy (RK45)", "Trans. mom. (RK45)", "Ang. mom. (RK45)"], "range": ["#80BEEA", "#B8D20C", "#F3BE64", "#D9D9D9", "#404040", "#808080"]},
                  "legend": {"orient": "none", "legendX": 115, "legendY": 24, "title": null, "direction": "vertical",
                    "symbolType": "stroke", "symbolSize": 5184, "symbolStrokeWidth": 4, "clipHeight": 20, "rowPadding": 8.5, "padding": 8, "symbolOffset": 4.4, "labelOffset": 6,
                    "labelFontSize": 21.5, "labelColor": "#262626", "labelLimit": 600, "strokeColor": "#262626", "fillColor": "white",
                    "encode": {"symbols": {"update": {"strokeDash": {"signal": "datum.value === 'Trans. mom. (RK45)' ? [16, 9] : datum.value === 'Ang. mom. (RK45)' ? [12, 4, 3, 4] : [1, 0]"}}}}}}
              }
            }
          ]
        },
        {
          "data": {"values": []},
          "mark": {"type": "point"},
          "encoding": {
            "x": {"field": "t", "type": "quantitative", "scale": {"domain": [0, 1000], "nice": false}, "axis": {"orient": "top", "values": [0, 200, 400, 600, 800, 1000], "labels": false, "title": null, "grid": false, "tickSize": -9}},
            "y": {"field": "v", "type": "quantitative", "scale": {"domain": [-3, 30], "nice": false, "zero": false}, "axis": {"orient": "right", "values": [0, 5, 10, 15, 20, 25, 30], "labels": false, "title": null, "grid": false, "tickSize": -9}}
          }
        }
      ]
    }
  ]
}
